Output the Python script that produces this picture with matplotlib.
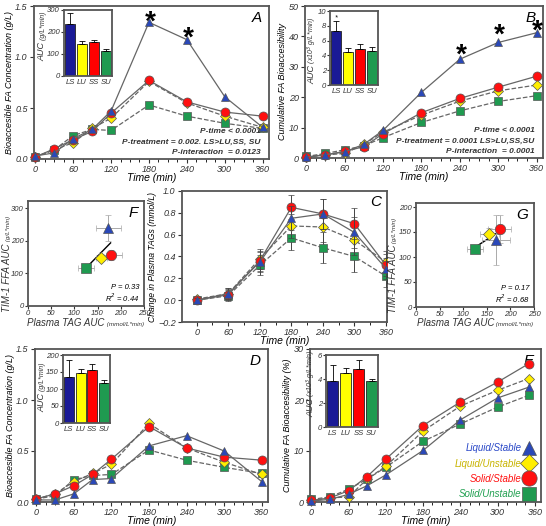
import numpy as np
import matplotlib
matplotlib.use('Agg')
import matplotlib.pyplot as plt
from matplotlib.lines import Line2D

plt.rcParams['font.family'] = ['Liberation Sans', 'DejaVu Sans']
plt.rcParams['font.style'] = 'italic'

W, H = 546, 526

# ---- data ----
groups = ['LS', 'LU', 'SS', 'SU']
names = ['Liquid/Stable', 'Liquid/Unstable', 'Solid/Stable', 'Solid/Unstable']
t_dig = [0, 30, 60, 90, 120, 180, 240, 300, 360]
t_dig_e = [0, 30, 60, 90, 120, 180, 240, 300, 350]
t_plasma = [0, 60, 120, 180, 240, 300, 360]

# A: bioaccessible FA concentration (g/L)
a_LS = [0.03, 0.06, 0.20, 0.29, 0.47, 1.34, 1.17, 0.61, 0.31]
a_LU = [0.02, 0.09, 0.16, 0.30, 0.40, 0.76, 0.55, 0.42, 0.31]
a_SS = [0.02, 0.10, 0.19, 0.27, 0.45, 0.77, 0.56, 0.46, 0.42]
a_SU = [0.02, 0.09, 0.23, 0.29, 0.28, 0.53, 0.42, 0.35, 0.30]
a_auc = [235, 145, 155, 115]
a_auc_err = [50, 12, 10, 8]

# B: cumulative FA bioaccessibility
b_LS = [0.3, 1.1, 2.0, 4.5, 9.1, 21.6, 32.5, 38.0, 41.2]
b_LU = [0.3, 1.0, 1.5, 4.5, 8.5, 14.1, 18.7, 22.1, 24.0]
b_SS = [0.3, 1.0, 2.2, 3.7, 8.0, 14.9, 19.6, 23.3, 26.9]
b_SU = [0.5, 1.5, 2.7, 4.0, 6.7, 11.7, 15.5, 18.6, 20.5]
b_auc = [7.3, 4.5, 4.8, 4.6]
b_auc_err = [1.3, 0.5, 0.7, 0.5]

# C: change in plasma TAGs (mmol/L)
c_LS = [0.0, 0.06, 0.35, 0.75, 0.79, 0.62, 0.29]
c_LU = [0.01, 0.06, 0.38, 0.68, 0.67, 0.55, 0.35]
c_SS = [0.0, 0.05, 0.36, 0.85, 0.79, 0.70, 0.32]
c_SU = [0.0, 0.04, 0.32, 0.57, 0.48, 0.40, 0.22]
c_err = [0.02, 0.05, 0.09, 0.11, 0.14, 0.14, 0.1]

# D: bioaccessible FA concentration, second model
d_LS = [0.02, 0.02, 0.08, 0.22, 0.23, 0.55, 0.65, 0.50, 0.20]
d_LU = [0.03, 0.08, 0.20, 0.28, 0.37, 0.77, 0.53, 0.39, 0.27]
d_SS = [0.03, 0.08, 0.16, 0.27, 0.42, 0.74, 0.53, 0.44, 0.41]
d_SU = [0.03, 0.06, 0.22, 0.26, 0.27, 0.51, 0.41, 0.34, 0.28]
d_auc = [135, 148, 155, 117]
d_auc_err = [50, 12, 18, 10]

# E: cumulative FA bioaccessibility (%)
e_LS = [0.2, 0.5, 1.5, 3.2, 5.3, 10.1, 16.1, 20.4, 22.5]
e_LU = [0.3, 0.8, 1.0, 4.5, 7.0, 13.9, 18.8, 21.9, 24.2]
e_SS = [0.3, 0.8, 2.2, 5.0, 8.4, 15.0, 19.6, 23.5, 27.1]
e_SU = [0.5, 1.0, 2.5, 4.5, 6.8, 11.9, 15.3, 18.6, 20.9]
e_auc = [3.8, 4.5, 4.8, 3.8]
e_auc_err = [1.4, 0.4, 0.8, 0.2]

# F / G: TIM-1 FFA AUC vs plasma TAG AUC
f_x = [173, 158, 178, 125]
f_xerr = [27, 12, 25, 17]
f_y = [238, 148, 157, 118]
f_yerr = [40, 10, 15, 10]
g_x = [170, 155, 177, 124]
g_xerr = [30, 20, 25, 17]
g_y = [135, 146, 157, 117]
g_yerr = [50, 12, 28, 8]

# ---- styles ----
mcol = ['#2a48b8', '#ffee00', '#ff1010', '#1f9a50']
barcol = ['#1a1a96', '#ffff00', '#ff0000', '#1f9a50']
txtcol = ['#2a48c8', '#c8b400', '#ff1010', '#20a050']
mk = ['^', 'D', 'o', 's']
ms = [5.5, 5, 6.5, 5.5]
ls = ['-', '--', '-', '--']
zo = [6, 4, 5, 3]
edge = '#555555'


def px_axes(l, t, r, b):
    return fig.add_axes([l / W, 1 - b / H, (r - l) / W, (b - t) / H])


def style(ax, fs=6.5):
    for s in ax.spines.values():
        s.set_color('#555555')
        s.set_linewidth(1.3)
    ax.tick_params(labelsize=fs, length=3, width=0.8, pad=1.5, colors='#333333')


def two_part(ax, x, split, main, unit, fs1, fs2, vertical=True):
    # main part ends at split, smaller unit part starts there
    if vertical:
        ax.text(x, split, main, transform=ax.transAxes, rotation=90, rotation_mode='anchor',
                ha='right', va='baseline', fontsize=fs1, color='#333333')
        ax.text(x, split, ' ' + unit, transform=ax.transAxes, rotation=90,
                rotation_mode='anchor', ha='left', va='baseline', fontsize=fs2, color='#333333')
    else:
        ax.text(split, x, main, transform=ax.transAxes, ha='right', va='baseline',
                fontsize=fs1, color='#333333')
        ax.text(split, x, ' ' + unit, transform=ax.transAxes, ha='left', va='baseline',
                fontsize=fs2, color='#333333')


def time_panel(ax, t, series, letter):
    for i, y in enumerate(series):
        ax.plot(t, y, ls=ls[i], color='#666666', lw=0.9, marker=mk[i], ms=ms[i],
                mfc=mcol[i], mec=edge, mew=0.5, zorder=zo[i], clip_on=False)
    ax.set_xlim(-2, 370)
    ax.set_xticks([0, 60, 120, 180, 240, 300, 360])
    ax.set_xticks(np.arange(0, 361, 15), minor=True)
    ax.tick_params(which='minor', length=2)
    ax.set_xlabel('Time (min)', fontsize=7.5, labelpad=-1)
    ax.text(0.97, 0.97, letter, transform=ax.transAxes, ha='right', va='top', fontsize=11)
    style(ax)


def inset(ax, vals, errs, ylim, ticks, unit, split, lx):
    ax.bar(range(4), vals, width=0.85, color=barcol, edgecolor='#222222', lw=0.6,
           yerr=[np.zeros(4), errs], capsize=2, error_kw=dict(lw=0.6, capthick=0.6))
    ax.set_xlim(-0.5, 3.5)
    ax.set_ylim(*ylim)
    ax.set_yticks(ticks)
    ax.set_xticks(range(4))
    ax.set_xticklabels(groups)
    two_part(ax, lx, split, 'AUC', unit, 6.5, 5)
    style(ax, fs=5.5)
    ax.tick_params(axis='x', length=0, pad=2)
    ax.tick_params(axis='y', length=2, pad=1)


def p_text(ax, lines):
    for j, s in enumerate(lines):
        ax.text(0.965, 0.18 - 0.07 * j, s, transform=ax.transAxes, ha='right', va='center',
                fontsize=6, fontweight='bold', color='#333333')


def scatter_panel(ax, x, xe, y, ye, ylim, yticks, letter, ptxt, lx, ly):
    for i in range(4):
        ax.errorbar(x[i], y[i], xerr=xe[i], yerr=ye[i], fmt=mk[i], ms=ms[i] + 1,
                    mfc=mcol[i], mec=edge, mew=0.5, ecolor='#aaaaaa', elinewidth=0.7,
                    capsize=2, zorder=3)
    k, c0 = np.polyfit(x, y, 1)
    xx = np.array([min(x), max(x)])
    ax.plot(xx, k * xx + c0, color='black', lw=1, zorder=2)
    ax.set_xlim(0, 250)
    ax.set_ylim(*ylim)
    ax.set_xticks([0, 50, 100, 150, 200, 250])
    ax.set_yticks(yticks)
    two_part(ax, lx, 0.6, 'TIM-1 FFA AUC', '(g/L*min)', 7, 4.5)
    two_part(ax, ly, 0.66, 'Plasma TAG AUC', '(mmol/L*min)', 7, 4.5, vertical=False)
    ax.text(0.95, 0.95, letter, transform=ax.transAxes, ha='right', va='top', fontsize=11)
    ax.text(0.96, 0.16, ptxt[0], transform=ax.transAxes, ha='right', fontsize=5.5)
    ax.text(0.96, 0.04, ptxt[1], transform=ax.transAxes, ha='right', fontsize=5.5)
    style(ax, fs=5.5)
    ax.tick_params(length=2, pad=1)


fig = plt.figure(figsize=(W / 100, H / 100), dpi=100)

# A
ax = px_axes(34, 6, 269, 159)
time_panel(ax, t_dig, [a_LS, a_LU, a_SS, a_SU], 'A')
ax.set_ylim(0, 1.5)
ax.set_yticks([0, 0.5, 1.0, 1.5])
ax.set_ylabel('Bioaccesible FA Concentration (g/L)', fontsize=6.5, labelpad=1)
for tt, yy in [(180, 1.27), (240, 1.115)]:
    ax.text(tt, yy, '*', ha='center', va='baseline', fontsize=20, fontweight='bold')
p_text(ax, ['P-time < 0.0001', 'P-treatment = 0.002. LS>LU,SS, SU', 'P-interaction  = 0.0123'])
ins = px_axes(64, 10, 112, 76)
inset(ins, a_auc, a_auc_err, (0, 300), [0, 100, 200, 300], '(g/L*min)', 0.52, -0.40)

# B
ax = px_axes(305, 6, 543, 158)
time_panel(ax, t_dig, [b_LS, b_LU, b_SS, b_SU], 'B')
ax.set_ylim(0, 50)
ax.set_yticks([0, 10, 20, 30, 40, 50])
ax.set_ylabel('Cumulative FA Bioaccesibility', fontsize=6.5, labelpad=1)
for tt, yy in [(240, 31.3), (300, 37.8), (360, 39.4)]:
    ax.text(tt, yy, '*', ha='center', va='baseline', fontsize=20, fontweight='bold')
p_text(ax, ['P-time < 0.0001', 'P-treatment = 0.0001 LS>LU,SS,SU', 'P-interaction  = 0.0001'])
ins = px_axes(330, 11, 378, 85)
inset(ins, b_auc, b_auc_err, (0, 10), [0, 2, 4, 6, 8, 10], '(x10$^3$ g/L*min)', 0.27, -0.33)
ins.text(0, b_auc[0] + b_auc_err[0] + 0.2, '*', ha='center', fontsize=5)

# F
ax = px_axes(28, 201, 144, 306)
scatter_panel(ax, f_x, f_xerr, f_y, f_yerr, (0, 322), [0, 100, 200, 300], 'F',
              ['P = 0.33', 'R$^2$ = 0.44'], -0.155, -0.19)

# C
ax = px_axes(182, 191, 387, 322)
for i, y in enumerate([c_LS, c_LU, c_SS, c_SU]):
    ax.errorbar(t_plasma, y, yerr=c_err, ls=ls[i], color='#666666', lw=0.9,
                marker=mk[i], ms=ms[i], mfc=mcol[i], mec=edge, mew=0.5,
                ecolor='#444444', elinewidth=0.7, capsize=2, zorder=zo[i])
ax.set_xlim(-28, 362)
ax.set_ylim(-0.2, 1.0)
ax.set_xticks([0, 60, 120, 180, 240, 300, 360])
ax.set_xticks(np.arange(0, 361, 30), minor=True)
ax.tick_params(which='minor', length=2)
ax.set_yticks(np.round(np.arange(-0.2, 1.01, 0.2), 1))
ax.set_ylabel('Change in Plasma TAGs (mmol/L)', fontsize=6.2, labelpad=1)
ax.set_xlabel('Time (min)', fontsize=7.5, labelpad=-1)
ax.text(0.97, 0.97, 'C', transform=ax.transAxes, ha='right', va='top', fontsize=11)
style(ax)

# G
ax = px_axes(416, 203, 534, 307)
scatter_panel(ax, g_x, g_xerr, g_y, g_yerr, (0, 208), [0, 50, 100, 150, 200], 'G',
              ['P = 0.17', 'R$^2$ = 0.68'], -0.17, -0.18)

# D
ax = px_axes(35, 349, 268, 502)
time_panel(ax, t_dig, [d_LS, d_LU, d_SS, d_SU], 'D')
ax.set_ylim(0, 1.5)
ax.set_yticks([0, 0.5, 1.0, 1.5])
ax.set_ylabel('Bioaccesible FA Concentration (g/L)', fontsize=6.5, labelpad=1)
ins = px_axes(63, 355, 110, 423)
inset(ins, d_auc, d_auc_err, (0, 200), [0, 50, 100, 150, 200], '(g/L*min)', 0.44, -0.40)

# E
ax = px_axes(310, 349, 541, 502)
time_panel(ax, t_dig_e, [e_LS, e_LU, e_SS, e_SU], 'E')
ax.set_ylim(0, 30)
ax.set_yticks([0, 10, 20, 30])
ax.set_ylabel('Cumulative FA Bioaccesibility (%)', fontsize=6.5, labelpad=1)
handles = [Line2D([], [], ls='none', marker=mk[i], ms=ms[i] + 4.5, mfc=mcol[i],
                  mec=edge, mew=0.5) for i in range(4)]
ax.legend(handles, names, loc='lower right', bbox_to_anchor=(1.0, -0.02), frameon=False,
          markerfirst=False, labelcolor=txtcol, fontsize=7, handletextpad=0.2,
          labelspacing=0.55, handlelength=1.2, borderaxespad=0.2)
ins = px_axes(326, 355, 378, 427)
inset(ins, e_auc, e_auc_err, (0, 6), [0, 2, 4, 6], '(x10$^3$ g/L*min)', 0.40, -0.25)

fig.savefig('out.png', dpi=100)
